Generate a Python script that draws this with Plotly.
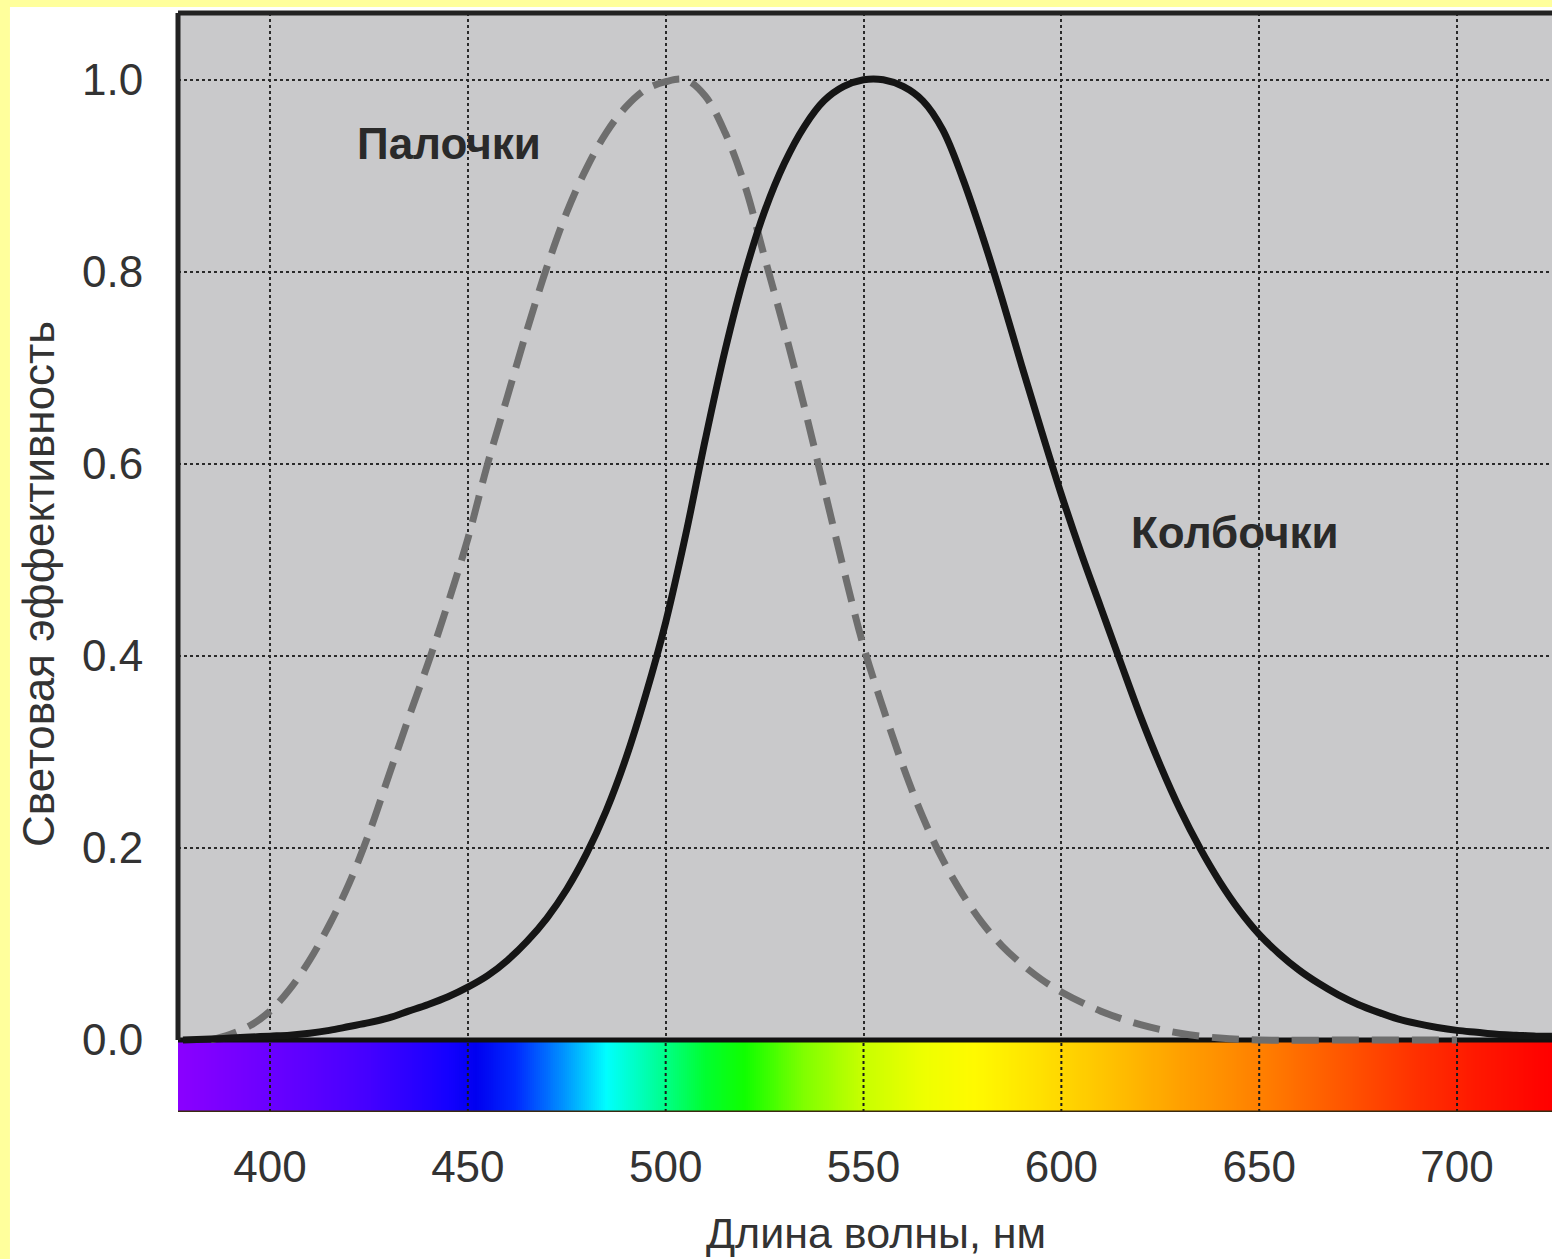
import numpy as np
import plotly.graph_objects as go

# ---------------- data ----------------
rod_nm = [385, 390, 395, 400, 405, 410, 415, 420, 425, 430, 435, 440, 445, 450,
          455, 460, 465, 470, 475, 480, 485, 490, 495, 500, 505, 510, 515, 520,
          525, 530, 535, 540, 545, 550, 555, 560, 565, 570, 575, 580, 585, 590,
          595, 600, 610, 620, 630, 640, 650, 675, 700]
rod_val = [0.0, 0.006, 0.015, 0.03, 0.053, 0.083, 0.12, 0.163, 0.215, 0.275,
           0.335, 0.393, 0.455, 0.522, 0.6, 0.67, 0.74, 0.805, 0.862, 0.908,
           0.945, 0.972, 0.99, 0.998, 1.0, 0.983, 0.945, 0.89, 0.815, 0.74,
           0.66, 0.575, 0.49, 0.41, 0.345, 0.285, 0.232, 0.188, 0.152, 0.122,
           0.098, 0.079, 0.063, 0.05, 0.03, 0.016, 0.007, 0.002, 0.0, 0.0, 0.0]

cone_nm = [378, 385, 390, 395, 400, 405, 410, 415, 420, 425, 430, 435, 440, 445,
           450, 455, 460, 465, 470, 475, 480, 485, 490, 495, 500, 505, 510, 515,
           520, 525, 530, 535, 540, 545, 550, 555, 560, 565, 570, 575, 580, 585,
           590, 595, 600, 605, 610, 615, 620, 625, 630, 635, 640, 645, 650, 655,
           660, 665, 670, 675, 680, 685, 690, 695, 700, 705, 710, 715, 720, 724]
cone_val = [0.0, 0.001, 0.002, 0.003, 0.004, 0.005, 0.007, 0.01, 0.014, 0.018,
            0.023, 0.03, 0.037, 0.045, 0.055, 0.067, 0.083, 0.103, 0.127, 0.157,
            0.194, 0.239, 0.294, 0.36, 0.435, 0.525, 0.625, 0.718, 0.798, 0.863,
            0.913, 0.951, 0.978, 0.993, 1.0, 1.0, 0.993, 0.978, 0.948, 0.898,
            0.838, 0.772, 0.702, 0.634, 0.568, 0.507, 0.45, 0.393, 0.337, 0.286,
            0.24, 0.2, 0.165, 0.135, 0.11, 0.09, 0.073, 0.059, 0.047, 0.037,
            0.029, 0.022, 0.017, 0.013, 0.01, 0.008, 0.006, 0.005, 0.004, 0.004]

# visible spectrum strip: wavelength stops and their colours
spec_nm = [377, 400, 425, 445, 452, 462, 474, 485, 497, 510, 520, 535, 550, 565,
           578, 595, 612, 630, 650, 670, 690, 705, 724]
spec_col = ["#8A00FF", "#6A00FF", "#4400FF", "#1400FF", "#0000F0", "#0028FF",
            "#0090FF", "#00FFFF", "#00FFA0", "#00FF30", "#10FF00", "#80FF00",
            "#C8FF00", "#EEFF00", "#FFFA00", "#FFE000", "#FFC200", "#FFA000",
            "#FF8000", "#FF5800", "#FF3000", "#FF1800", "#FF0000"]

x_ticks = [400, 450, 500, 550, 600, 650, 700]
y_ticks = [0.0, 0.2, 0.4, 0.6, 0.8, 1.0]

rod_label = "Палочки"
cone_label = "Колбочки"
x_title = "Длина волны, нм"
y_title = "Световая эффективность"

# ---------------- layout constants ----------------
X_RANGE = [376.75, 724.0]
Y_RANGE = [-0.075, 1.0695]
STRIP = [-0.075, 0.0]
FONT = "Liberation Sans, Arial, sans-serif"
TXT = "#333333"

fig = go.Figure()

# spectrum strip
edges = np.linspace(X_RANGE[0], X_RANGE[1], 700)
centers = (edges[:-1] + edges[1:]) / 2
lo, hi = spec_nm[0], spec_nm[-1]
cscale = [[(w - lo) / (hi - lo), c] for w, c in zip(spec_nm, spec_col)]
fig.add_trace(go.Heatmap(
    x=edges, y=STRIP, z=[centers], zmin=lo, zmax=hi,
    colorscale=cscale, showscale=False, hoverinfo="skip"))

# grid lines continuing over the strip
gx, gy = [], []
for t in x_ticks:
    gx += [t, t, None]
    gy += [STRIP[0], STRIP[1], None]
fig.add_trace(go.Scatter(x=gx, y=gy, mode="lines",
                         line=dict(color="#1a1a1a", width=2, dash="dot"),
                         hoverinfo="skip", showlegend=False))

# baseline y = 0
fig.add_trace(go.Scatter(x=X_RANGE, y=[0, 0], mode="lines",
                         line=dict(color="#111111", width=5),
                         hoverinfo="skip", showlegend=False))

# rods (dashed grey)
fig.add_trace(go.Scatter(x=rod_nm, y=rod_val, mode="lines",
                         line=dict(color="#6e6e6e", width=7, dash="27px,13px",
                                   shape="spline", smoothing=1.0),
                         showlegend=False))
# cones (solid black)
fig.add_trace(go.Scatter(x=cone_nm, y=cone_val, mode="lines",
                         line=dict(color="#151515", width=7,
                                   shape="spline", smoothing=1.0),
                         showlegend=False))

fig.add_annotation(x=445.3, y=0.934, text="<b>" + rod_label + "</b>",
                   showarrow=False, font=dict(family=FONT, size=44, color="#2a2a2a"))
fig.add_annotation(x=644, y=0.529, text="<b>" + cone_label + "</b>",
                   showarrow=False, font=dict(family=FONT, size=44, color="#2a2a2a"))

# axis titles
fig.add_annotation(xref="paper", yref="paper", x=0.508, y=-0.110, text=x_title,
                   showarrow=False, xanchor="center", yanchor="middle",
                   font=dict(family=FONT, size=43, color=TXT))
fig.add_annotation(xref="paper", yref="paper", x=-0.1019, y=0.4804, text=y_title,
                   showarrow=False, xanchor="center", yanchor="middle", textangle=-90,
                   font=dict(family=FONT, size=44, color=TXT))

# borders and yellow frame
fig.add_shape(type="line", xref="paper", yref="y", x0=0, x1=0, y0=0, y1=Y_RANGE[1],
              line=dict(color="#222222", width=5), layer="above")
fig.add_shape(type="line", xref="paper", yref="paper", x0=0, x1=1, y0=1, y1=1,
              line=dict(color="#222222", width=5), layer="above")
fig.add_shape(type="line", xref="paper", yref="y", x0=0, x1=1, y0=STRIP[0], y1=STRIP[0],
              line=dict(color="#3a2a10", width=3), layer="above")
fig.add_shape(type="rect", xref="paper", yref="paper", x0=-0.14, x1=-0.1223,
              y0=-0.2, y1=1.02, fillcolor="#FFFF9C", line=dict(width=0), layer="above")
fig.add_shape(type="rect", xref="paper", yref="paper", x0=-0.14, x1=1.01,
              y0=1.0055, y1=1.02, fillcolor="#FFFF9C", line=dict(width=0), layer="above")

fig.update_layout(
    width=1552, height=1259,
    margin=dict(l=178, r=0, t=13, b=147, autoexpand=False),
    paper_bgcolor="white", plot_bgcolor="#C9C9CB",
    showlegend=False,
    font=dict(family=FONT, color=TXT),
)
fig.update_xaxes(
    range=X_RANGE, tickvals=x_ticks, showgrid=True, gridcolor="#2a2a2a",
    gridwidth=2, griddash="dot", zeroline=False, showline=False,
    ticks="outside", ticklen=16, tickcolor="rgba(0,0,0,0)",
    tickfont=dict(family=FONT, size=44, color=TXT),
    automargin=False,
)
fig.update_yaxes(
    range=Y_RANGE, tickvals=y_ticks, tickformat=".1f", showgrid=True,
    gridcolor="#2a2a2a", gridwidth=2, griddash="dot", zeroline=False,
    showline=False, ticks="outside", ticklen=25, tickcolor="rgba(0,0,0,0)",
    tickfont=dict(family=FONT, size=44, color=TXT),
    automargin=False,
)

fig.write_html("out.html", config={"displayModeBar": False},
               post_script="document.body.style.margin='0';")
